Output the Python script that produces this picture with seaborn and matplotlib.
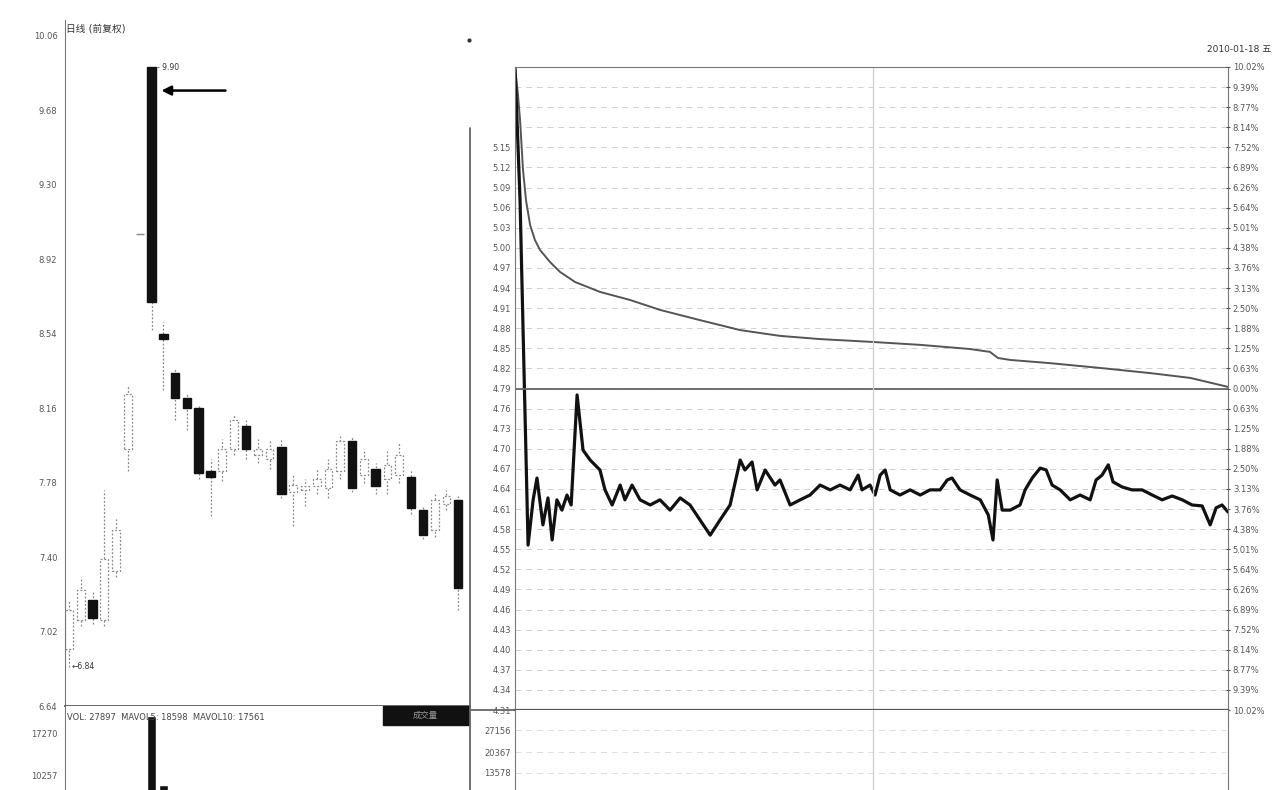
import numpy as np
import pandas as pd
import matplotlib.pyplot as plt
import seaborn as sns
from matplotlib.lines import Line2D
from matplotlib.patches import Rectangle

sns.set_style("white")
plt.rcParams["font.family"] = ["DejaVu Sans", "Noto Sans CJK SC"]

# ---- daily candles (left panel) ----
days = list(range(34))
opens = [6.93, 7.08, 7.18, 7.08, 7.33, 7.95, 9.05, 9.90, 8.54, 8.34, 8.21, 8.16, 7.84, 7.84, 7.95, 8.07, 7.92,
         7.90, 7.96, 7.73, 7.74, 7.76, 7.75, 7.84, 7.99, 7.82, 7.85, 7.80, 7.82, 7.81, 7.64, 7.54, 7.67, 7.69]
closes = [7.13, 7.23, 7.09, 7.39, 7.54, 8.23, 9.05, 8.70, 8.51, 8.21, 8.16, 7.83, 7.81, 7.95, 8.10, 7.95, 7.95,
          7.95, 7.72, 7.77, 7.76, 7.80, 7.85, 7.99, 7.75, 7.90, 7.76, 7.87, 7.92, 7.65, 7.51, 7.69, 7.71, 7.24]
highs = [7.18, 7.30, 7.22, 7.74, 7.60, 8.28, 9.05, 9.90, 8.60, 8.36, 8.23, 8.18, 7.90, 8.00, 8.13, 8.10, 8.00,
         8.00, 8.00, 7.82, 7.80, 7.85, 7.90, 8.02, 8.01, 7.95, 7.88, 7.95, 7.98, 7.85, 7.66, 7.72, 7.74, 7.71]
lows = [6.84, 7.05, 7.06, 7.05, 7.30, 7.84, 9.05, 8.56, 8.25, 8.10, 8.05, 7.80, 7.61, 7.79, 7.92, 7.90, 7.88,
        7.85, 7.70, 7.56, 7.66, 7.72, 7.70, 7.80, 7.73, 7.78, 7.72, 7.72, 7.78, 7.62, 7.49, 7.50, 7.64, 7.13]
volumes = [6200, 7400, 5800, 9100, 8300, 12600, 2100, 28400, 17800, 15200, 13100, 14800, 12300, 10400, 11200,
           9800, 8700, 8200, 11900, 9300, 7600, 8100, 8800, 10200, 11600, 8900, 9400, 8500, 9000, 12100, 13400,
           10900, 9700, 16200]
price_ticks = [6.64, 7.02, 7.40, 7.78, 8.16, 8.54, 8.92, 9.30, 9.68, 10.06]

# ---- intraday (right panel) ----
prev_close = 4.79
pct_levels = np.round(np.arange(-16, 17) * 10.02 / 16, 2)
price_min = [0, 1.0, 1.7, 2.7, 3.7, 5.1, 6.7, 8.4, 11.8, 15.2, 20.2, 28.6, 38.7, 48.8, 62.3, 75.8, 89.2, 102.7,
             120.5, 136.4, 153.2, 159.9, 162.6, 166.7, 180.1, 197.0, 213.8, 227.3, 240]
price_pct = [10.02, 9.15, 8.37, 6.81, 5.87, 5.09, 4.63, 4.32, 3.94, 3.63, 3.32, 3.01, 2.76, 2.45, 2.13, 1.82,
             1.64, 1.54, 1.45, 1.36, 1.23, 1.14, 0.95, 0.89, 0.79, 0.64, 0.48, 0.33, 0.05]
ind_min = [0, 1.7, 4.4, 6.1, 7.4, 9.4, 11.1, 12.5, 14.1, 15.8, 17.5, 18.9, 20.9, 22.9, 25.3, 28.6, 30.3, 32.7,
           35.4, 37.0, 39.4, 42.1, 45.5, 48.8, 52.2, 55.6, 58.9, 62.3, 65.7, 69.0, 72.4, 75.8, 77.4, 79.8,
           81.5, 84.2, 87.5, 89.2, 92.6, 96.0, 99.3, 102.7, 106.1, 109.4, 112.8, 115.5, 116.8, 119.5, 121.2,
           122.9, 124.6, 126.3, 129.6, 133.0, 136.4, 139.7, 143.1, 145.5, 147.1, 149.8, 153.2, 156.6, 159.3,
           160.9, 162.3, 164.0, 166.7, 170.0, 171.7, 174.1, 176.8, 178.8, 180.8, 183.5, 186.9, 190.2, 193.6,
           195.6, 197.6, 199.7, 201.3, 204.4, 207.7, 211.1, 214.5, 217.8, 221.2, 224.6, 227.9, 231.3, 234.0,
           236.0, 238.0, 240]
ind_pct = [10.02, 5.87, -4.88, -3.47, -2.79, -4.25, -3.41, -4.72, -3.47, -3.79, -3.32, -3.63, -0.20, -1.92,
           -2.23, -2.54, -3.16, -3.63, -3.01, -3.47, -3.01, -3.47, -3.63, -3.47, -3.79, -3.41, -3.63, -4.10,
           -4.57, -4.10, -3.63, -2.23, -2.54, -2.29, -3.16, -2.54, -3.01, -2.85, -3.63, -3.47, -3.32, -3.01,
           -3.16, -3.01, -3.16, -2.70, -3.16, -3.01, -3.32, -2.70, -2.54, -3.16, -3.32, -3.16, -3.32, -3.16,
           -3.16, -2.85, -2.79, -3.16, -3.32, -3.47, -3.94, -4.72, -2.85, -3.79, -3.79, -3.63, -3.16, -2.79,
           -2.48, -2.54, -3.01, -3.16, -3.47, -3.32, -3.47, -2.85, -2.70, -2.38, -2.91, -3.07, -3.16, -3.16,
           -3.32, -3.47, -3.35, -3.47, -3.63, -3.66, -4.25, -3.72, -3.63, -3.85]
vol_ticks = [12700, 14800, 17000]
vol_tick_labels = ["13578", "20367", "27156"]

W, H = 1276, 790
fig = plt.figure(figsize=(W / 100, H / 100), dpi=100)


def box(x0, y0, x1, y1):
    # pixel box (top-left origin) -> figure fraction rect
    return [x0 / W, 1 - y1 / H, (x1 - x0) / W, (y1 - y0) / H]


grey = "#777777"
tick_kw = dict(labelsize=6, colors="#555555")

# ---------- candle chart ----------
ax = fig.add_axes(box(65, 20, 470, 706))
df = pd.DataFrame({"day": days, "open": opens, "close": closes, "high": highs, "low": lows})
for _, r in df.iterrows():
    d = r["day"]
    if r["open"] == r["close"] == r["high"]:
        ax.hlines(r["close"], d - 0.35, d + 0.35, color="#888888", lw=1)
        continue
    ax.vlines(d, r["low"], r["high"], color="#888888", lw=0.9, linestyles=(0, (1.5, 1.5)), zorder=1)
    lo, hi = min(r["open"], r["close"]), max(r["open"], r["close"])
    if r["close"] < r["open"]:
        ax.bar(d, hi - lo, bottom=lo, width=0.72, color="#111111", edgecolor="#111111", zorder=3)
    else:
        ax.bar(d, hi - lo, bottom=lo, width=0.66, color="white", edgecolor="#8a8a8a", lw=0.9,
               linestyle=(0, (1.5, 1.5)), zorder=2)
ax.set_xlim(-0.34, 34.0)
ax.set_ylim(6.64, 10.14)
ax.set_yticks(price_ticks)
ax.set_yticklabels([f"{v:.2f}" for v in price_ticks])
ax.set_yticks(np.arange(6.64, 10.14, 0.076), minor=True)
ax.tick_params(axis="y", which="both", direction="inout", length=4, width=0.6, **tick_kw)
ax.tick_params(axis="y", which="minor", length=2)
ax.set_xticks([])
for s in ["top", "right"]:
    ax.spines[s].set_visible(False)
ax.spines["left"].set_color(grey)
ax.spines["bottom"].set_color("#666666")
ax.spines["bottom"].set_linewidth(1.4)
ax.text(0.003, 0.995, "日线 (前复权)", transform=ax.transAxes, fontsize=7, color="#333333", va="top", ha="left")
ax.text(7.45, 9.90, "- 9.90", fontsize=5.5, color="#333333", va="center")
ax.text(0.2, 6.84, "←6.84", fontsize=5.5, color="#333333", va="center")
ax.annotate("", xy=(7.6, 9.78), xytext=(13.5, 9.78),
            arrowprops=dict(arrowstyle="-|>", color="black", lw=1.8, mutation_scale=14))

# ---------- daily volume ----------
axv = fig.add_axes(box(65, 706, 470, 900))
vcolors = ["#111111" if c < o else "#999999" for o, c in zip(opens, closes)]
axv.bar(days, volumes, width=0.72, color=vcolors)
axv.set_xlim(-0.34, 34.0)
axv.set_ylim(0, 30000)
axv.set_yticks([19300, 25800])
axv.set_yticklabels(["10257", "17270"])
axv.tick_params(axis="y", direction="inout", length=4, width=0.6, **tick_kw)
axv.set_xticks([])
for s in ["top", "right", "bottom"]:
    axv.spines[s].set_visible(False)
axv.spines["left"].set_color(grey)
axv.text(0.005, 0.965, "VOL: 27897  MAVOL5: 18598  MAVOL10: 17561", transform=axv.transAxes,
         fontsize=6, color="#444444", va="top")
axv.add_patch(Rectangle((0.785, 0.902), 0.215, 0.098, transform=axv.transAxes, color="#111111", zorder=5))
axv.text(0.89, 0.951, "成交量", transform=axv.transAxes, fontsize=6, color="#999999",
         ha="center", va="center", zorder=6)

# ---------- intraday chart ----------
axi = fig.add_axes(box(515, 67, 1228, 710))
sns.lineplot(x=price_min, y=price_pct, ax=axi, color="#555555", lw=1.4)
sns.lineplot(x=ind_min, y=ind_pct, ax=axi, color="#111111", lw=2.3)
axi.set_xlim(0, 240)
axi.set_ylim(-10.02, 10.02)
axi.set_yticks(pct_levels)
left_labels = [f"{prev_close * (1 + p / 100):.2f}" for p in pct_levels]
for k in range(len(left_labels) - 4, len(left_labels)):
    left_labels[k] = ""
axi.set_yticklabels(left_labels)
axi.set_xticks([])
axi.grid(axis="y", color="#d0d0d0", lw=0.7, ls=(0, (6, 5)))
axi.axhline(0, color="#666666", lw=1.3)
axi.axvline(120.5, color="#cfcfcf", lw=0.9)
axi.tick_params(axis="y", length=0, pad=3, **tick_kw)
for s in axi.spines.values():
    s.set_color(grey)
axi.spines["bottom"].set_linewidth(1.6)
axi.spines["bottom"].set_color("#555555")

axr = axi.twinx()
axr.set_ylim(-10.02, 10.02)
axr.set_yticks(pct_levels)
axr.set_yticklabels([f"{abs(p):.2f}%" for p in pct_levels])
axr.tick_params(axis="y", length=3, direction="inout", pad=2, **tick_kw)
for s in axr.spines.values():
    s.set_visible(False)
axi.text(1.06, 1.02, "2010-01-18 五", transform=axi.transAxes, fontsize=6.5, color="#333333",
         ha="right", va="bottom")

# ---------- intraday volume ----------
axiv = fig.add_axes(box(515, 710, 1228, 900))
axiv.set_xlim(0, 240)
axiv.set_ylim(0, 19000)
axiv.set_yticks(vol_ticks)
axiv.set_yticklabels(vol_tick_labels)
axiv.set_xticks([])
axiv.grid(axis="y", color="#dddddd", lw=0.7, ls=(0, (6, 5)))
axiv.axvline(120.5, color="#cfcfcf", lw=0.9)
axiv.tick_params(axis="y", length=0, pad=3, **tick_kw)
axiv.spines["top"].set_visible(False)
axiv.spines["bottom"].set_visible(False)
axiv.spines["left"].set_color(grey)
axiv.spines["right"].set_color(grey)

# separators between the two windows
fig.add_artist(Line2D([470 / W, 470 / W], [1 - 128 / H, 0], color="#666666", lw=1.3))
fig.add_artist(Line2D([470 / W, 515 / W], [1 - 710 / H, 1 - 710 / H], color="#666666", lw=1.3))
fig.add_artist(Line2D([469 / W], [1 - 40 / H], marker="o", ms=2, color="#333333"))

fig.savefig("out.png", dpi=100)
